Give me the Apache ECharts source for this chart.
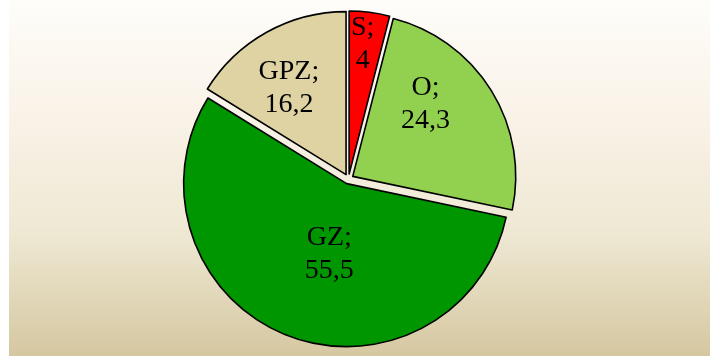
<!DOCTYPE html>
<html>
<head>
<meta charset="utf-8">
<script src="https://cdn.jsdelivr.net/npm/echarts@6/dist/echarts.min.js"></script>
<style>
  html, body { margin: 0; padding: 0; background: #ffffff; }
  #wrap { position: relative; width: 710px; height: 356px; overflow: hidden; background: #ffffff; }
  #chart { position: absolute; left: 9px; top: 0; width: 701px; height: 356px; }
</style>
</head>
<body>
<div id="wrap"><div id="chart"></div></div>
<script>
// Shares of each category (percent)
const categories = ['S', 'O', 'GZ', 'GPZ'];
const shares = [4, 24.3, 55.5, 16.2];
const sliceColors = ['#FF0000', '#92D050', '#009600', '#DFD3A4'];
// Fine placement of each slice label, in pixels
const labelNudges = [[3, -46], [1, -28], [14, -8], [-16, -13]];

const chart = echarts.init(document.getElementById('chart'), null, { renderer: 'canvas' });

const border = { borderColor: '#000000', borderWidth: 1.6 };

const data = categories.map((name, i) => ({
  name: name,
  value: shares[i],
  selected: true,
  itemStyle: Object.assign({ color: sliceColors[i] }, border),
  select: { itemStyle: Object.assign({ color: sliceColors[i] }, border) }
}));

chart.setOption({
  animation: false,
  backgroundColor: {
    type: 'linear', x: 0, y: 0, x2: 0, y2: 1,
    colorStops: [
      { offset: 0, color: '#FEFDFA' },
      { offset: 0.34, color: '#F9F2E7' },
      { offset: 0.66, color: '#EEE8D3' },
      { offset: 1, color: '#D5C7A0' }
    ]
  },
  series: [{
    type: 'pie',
    center: [339.5, 179],
    radius: 163,
    startAngle: 90,
    clockwise: true,
    selectedMode: 'multiple',
    selectedOffset: 5,
    avoidLabelOverlap: false,
    silent: true,
    label: {
      show: true,
      position: 'inside',
      color: '#000000',
      fontFamily: '"Liberation Serif", "DejaVu Serif", serif',
      fontSize: 28,
      lineHeight: 33,
      align: 'center',
      formatter: p => p.name + ';\n' + String(p.value).replace('.', ',')
    },
    labelLine: { show: false },
    labelLayout: p => ({ dx: labelNudges[p.dataIndex][0], dy: labelNudges[p.dataIndex][1] }),
    emphasis: { disabled: true },
    data: data
  }]
});
</script>
</body>
</html>
